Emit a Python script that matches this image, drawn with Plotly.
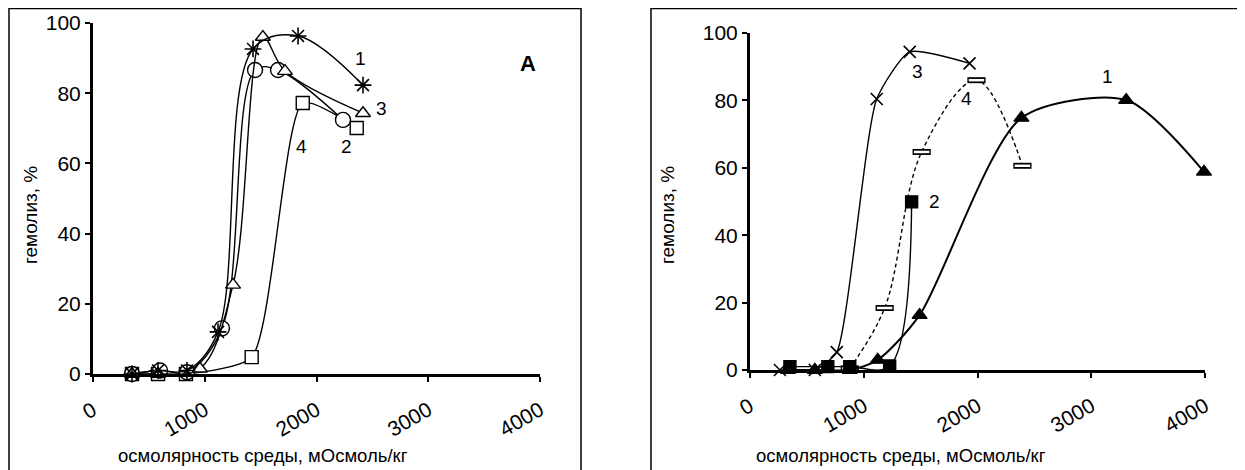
import plotly.graph_objects as go

# page body has an 8px default margin: compensate
OFF = 8
W, H = 1245 - OFF, 470 - OFF

def PX(px):
    return (px - OFF) / W

def PY(py):
    return 1 - (py - OFF) / H

# ---------- Panel A data ----------
a1_x = [349, 582, 841, 1119, 1432, 1835, 2416]
a1_y = [0, 1, 1, 12, 92.6, 96.3, 82.3]
a2_x = [349, 600, 841, 1154, 1450, 1656, 2237]
a2_y = [0, 1, 0.5, 13, 86.6, 86.6, 72.4]
a3_x = [349, 582, 957, 1253, 1520, 1718, 2416]
a3_y = [0, 0, 1.5, 25.4, 96, 86.3, 74.3]
a4_x = [349, 582, 832, 1420, 1877, 2360]
a4_y = [0, 0, 0, 4.8, 77.2, 70.1]

# ---------- Panel Б data ----------
b1_x = [333, 570, 877, 1123, 1491, 2386, 3307, 3991]
b1_y = [0, 0, 0, 3, 16.3, 74.8, 80.1, 58.8]
b2_x = [351, 684, 877, 1228, 1421]
b2_y = [1, 1, 1, 1.2, 49.9]
b3_x = [263, 570, 763, 1114, 1404, 1930]
b3_y = [0, 0, 5.3, 80.4, 94.4, 91]
b4_x = [877, 1184, 1509, 1991, 2395]
b4_y = [0.5, 18.4, 64.7, 86, 60.6]

x_ticks = [0, 1000, 2000, 3000, 4000]
y_ticks = [0, 20, 40, 60, 80, 100]

FONT = "Liberation Sans, Arial, sans-serif"

fig = go.Figure()

def series(x, y, xa, ya, symbol, size, fill, lw=1.4, dash="solid", mlw=1.4, smooth=1.0):
    fig.add_trace(go.Scatter(
        x=x, y=y, xaxis=xa, yaxis=ya, mode="lines+markers",
        line=dict(color="black", width=lw, shape="spline", smoothing=smooth, dash=dash),
        marker=dict(symbol=symbol, size=size, color=fill,
                    line=dict(color="black", width=mlw)),
        cliponaxis=False, showlegend=False, hoverinfo="x+y"))

# Panel A
series(a4_x, a4_y, "x", "y", "square", 13, "white", smooth=0.6)
series(a2_x, a2_y, "x", "y", "circle", 15, "white")
series(a3_x, a3_y, "x", "y", "triangle-up", 13, "white")
series(a1_x, a1_y, "x", "y", "asterisk-open", 14, "black", mlw=1.6)

# Panel Б
series(b4_x, b4_y, "x2", "y2", "line-ew", 13, "black", dash="4px,3px", mlw=6)
fig.add_trace(go.Scatter(x=b4_x, y=b4_y, xaxis="x2", yaxis="y2", mode="markers",
                         marker=dict(symbol="line-ew", size=11,
                                     line=dict(color="white", width=2.5)),
                         cliponaxis=False, showlegend=False, hoverinfo="skip"))
series(b1_x, b1_y, "x2", "y2", "triangle-up", 13, "black", lw=2, smooth=0.75)
series(b2_x, b2_y, "x2", "y2", "square", 12, "black")
series(b3_x, b3_y, "x2", "y2", "x-thin-open", 12, "black", mlw=1.6, smooth=0.55)

axis_common = dict(showgrid=False, zeroline=False, showline=True, linecolor="black",
                   linewidth=3, ticks="outside", ticklen=5, tickwidth=1.5,
                   tickcolor="black", tickfont=dict(family=FONT, size=21, color="black"))

fig.update_layout(
    width=W, height=H,
    margin=dict(l=0, r=0, t=0, b=0, pad=0, autoexpand=False),
    paper_bgcolor="white", plot_bgcolor="white",
    xaxis=dict(domain=[PX(93), PX(540)], range=[0, 4000], anchor="y",
               tickvals=x_ticks, tickangle=-30, ticklabelstandoff=8, **axis_common),
    yaxis=dict(domain=[PY(374), PY(23)], range=[0, 100], anchor="x",
               tickvals=y_ticks, **axis_common),
    xaxis2=dict(domain=[PX(750), PX(1205)], range=[0, 4000], anchor="y2",
                tickvals=x_ticks, tickangle=-30, ticklabelstandoff=8, **axis_common),
    yaxis2=dict(domain=[PY(370), PY(33)], range=[0, 100], anchor="x2",
                tickvals=y_ticks, **axis_common),
)

# frames
for x0, x1 in [(9, 581), (651, 1244)]:
    fig.add_shape(type="rect", xref="paper", yref="paper",
                  x0=PX(x0), x1=PX(x1), y0=-0.05, y1=PY(8.5),
                  line=dict(color="black", width=1.5), fillcolor="rgba(0,0,0,0)")

def ann(text, x, y, xref, yref, size=19, bold=False, angle=0):
    fig.add_annotation(text=f"<b>{text}</b>" if bold else text, x=x, y=y,
                       xref=xref, yref=yref, showarrow=False, textangle=angle,
                       xanchor="center", yanchor="middle",
                       font=dict(family=FONT, size=size, color="black"))

# series labels panel A
ann("1", 2390, 90, "x", "y")
ann("3", 2585, 75.5, "x", "y")
ann("2", 2270, 64.7, "x", "y")
ann("4", 1870, 64.7, "x", "y")
ann("А", 3893, 88.6, "x", "y", size=22, bold=True)
# panel Б
ann("3", 1474, 88.7, "x2", "y2")
ann("4", 1904, 80.7, "x2", "y2")
ann("2", 1623, 50, "x2", "y2")
ann("1", 3140, 87, "x2", "y2")
ann("Б", 4079, 92.6, "x2", "y2", size=22, bold=True)

# axis titles
xt = "осмолярность среды, мОсмоль/кг"
ann(xt, PX(263), PY(455), "paper", "paper", size=18.5)
ann(xt, PX(901), PY(455), "paper", "paper", size=18.5)
ann("гемолиз, %", PX(30), PY(215), "paper", "paper", size=19, angle=-90)
ann("гемолиз, %", PX(667), PY(215), "paper", "paper", size=19, angle=-90)

fig.write_html("out.html")
